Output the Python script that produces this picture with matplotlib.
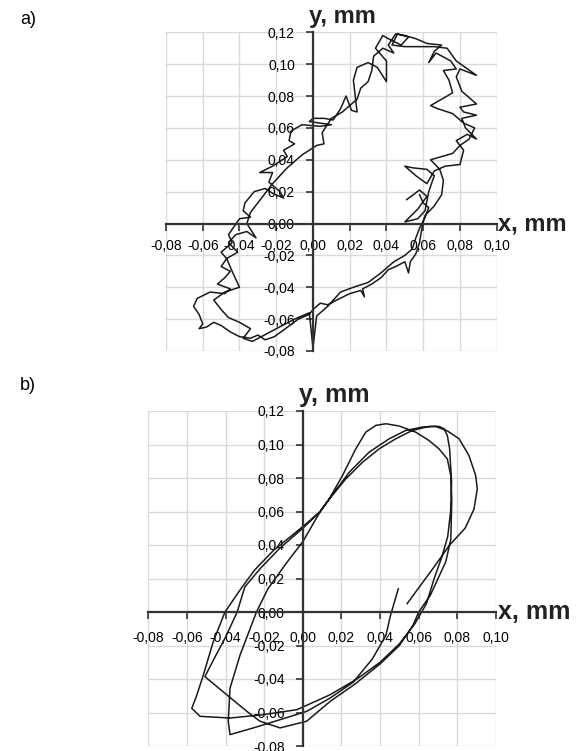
import matplotlib
matplotlib.use('Agg')
import matplotlib.pyplot as plt
import matplotlib.transforms as mtransforms

plt.rcParams['font.family'] = ['Liberation Sans', 'DejaVu Sans']

# axis ticks (shared by both panels)
xticks = [-0.08, -0.06, -0.04, -0.02, 0.00, 0.02, 0.04, 0.06, 0.08, 0.10]
yticks = [-0.08, -0.06, -0.04, -0.02, 0.00, 0.02, 0.04, 0.06, 0.08, 0.10, 0.12]
xlabels = ['-0,08', '-0,06', '-0,04', '-0,02', '0,00', '0,02', '0,04', '0,06', '0,08', '0,10']
ylabels = ['-0,08', '-0,06', '-0,04', '-0,02', '0,00', '0,02', '0,04', '0,06', '0,08', '0,10', '0,12']

# panel a) - noisy trajectory, x / y in mm
ax_x = [0.051, 0.058, 0.062, 0.057, 0.050, 0.057, 0.061, 0.063, 0.066, 0.062,
        0.054, 0.050, 0.056, 0.062, 0.066, 0.072, 0.080, 0.082, 0.078, 0.084,
        0.089, 0.083, 0.081, 0.089, 0.082, 0.080, 0.089, 0.081, 0.078, 0.080,
        0.089, 0.078, 0.073, 0.066, 0.058, 0.050, 0.043, 0.046, 0.052, 0.048,
        0.041, 0.038, 0.034, 0.040, 0.040, 0.035, 0.030, 0.024, 0.022, 0.023,
        0.024, 0.021, 0.018, 0.015, 0.011, 0.006, 0.000, -0.002, 0.004, 0.010,
        0.004, -0.006, -0.012, -0.013, -0.010, -0.016, -0.014, -0.022, -0.029, -0.022,
        -0.024, -0.018, -0.016, -0.022, -0.026, -0.032, -0.037, -0.038, -0.034, -0.040,
        -0.043, -0.046, -0.044, -0.050, -0.047, -0.050, -0.045, -0.048, -0.052, -0.045,
        -0.048, -0.056, -0.063, -0.065, -0.062, -0.060, -0.062, -0.058, -0.054, -0.050,
        -0.045, -0.040, -0.034, -0.030, -0.026, -0.021, -0.015, -0.008, -0.002, 0.000,
        0.004, 0.008, 0.013, 0.020, 0.026, 0.028, 0.027, 0.032, 0.037, 0.041,
        0.045, 0.050, 0.052, 0.053, 0.056, 0.058, 0.059, 0.060,
        0.061, 0.066, 0.070, 0.071, 0.069, 0.064, 0.070, 0.076, 0.080, 0.085,
        0.088, 0.082, 0.076, 0.068, 0.064, 0.070, 0.076, 0.074, 0.071, 0.078,
        0.075, 0.067, 0.063, 0.066, 0.070, 0.062, 0.056, 0.050, 0.045, 0.041,
        0.044, 0.038, 0.033, 0.032, 0.030, 0.026, 0.024, 0.020, 0.016, 0.010,
        0.005, 0.006, 0.002, -0.006, -0.014, -0.022, -0.028, -0.034, -0.036, -0.031,
        -0.036, -0.042, -0.046, -0.041, -0.047, -0.044, -0.040, -0.048, -0.054, -0.050,
        -0.046, -0.040, -0.034, -0.038, -0.033, -0.020, -0.010, -0.002, 0.000, 0.002,
        0.008, 0.015, 0.022, 0.030, 0.037, 0.044, 0.050, 0.054, 0.056, 0.058,
        0.061, 0.063, 0.060, 0.058]
ax_y = [0.015, 0.021, 0.017, 0.009, 0.001, 0.003, 0.008, 0.020, 0.030, 0.034,
        0.035, 0.036, 0.030, 0.025, 0.033, 0.036, 0.037, 0.046, 0.052, 0.056,
        0.053, 0.060, 0.066, 0.068, 0.070, 0.073, 0.075, 0.083, 0.092, 0.097,
        0.093, 0.102, 0.110, 0.111, 0.111, 0.111, 0.112, 0.119, 0.117, 0.112,
        0.116, 0.118, 0.110, 0.102, 0.089, 0.098, 0.101, 0.098, 0.090, 0.080,
        0.070, 0.071, 0.080, 0.072, 0.065, 0.066, 0.066, 0.064, 0.063, 0.062,
        0.061, 0.062, 0.058, 0.052, 0.050, 0.046, 0.042, 0.036, 0.032, 0.032,
        0.026, 0.020, 0.016, 0.019, 0.022, 0.020, 0.013, 0.008, 0.004, 0.003,
        -0.002, -0.007, -0.012, -0.018, -0.022, -0.027, -0.030, -0.034, -0.038, -0.041,
        -0.044, -0.043, -0.047, -0.052, -0.057, -0.063, -0.066, -0.065, -0.062, -0.064,
        -0.068, -0.071, -0.072, -0.070, -0.073, -0.071, -0.066, -0.060, -0.057, -0.054,
        -0.050, -0.051, -0.048, -0.044, -0.042, -0.046, -0.041, -0.038, -0.034, -0.029,
        -0.027, -0.024, -0.031, -0.024, -0.019, -0.012, -0.005, 0.001,
        0.005, 0.011, 0.018, 0.027, 0.034, 0.040, 0.042, 0.044, 0.049, 0.053,
        0.060, 0.063, 0.069, 0.072, 0.074, 0.078, 0.082, 0.090, 0.096, 0.097,
        0.102, 0.107, 0.101, 0.108, 0.112, 0.113, 0.116, 0.118, 0.119, 0.112,
        0.107, 0.110, 0.105, 0.096, 0.089, 0.085, 0.078, 0.074, 0.070, 0.066,
        0.057, 0.050, 0.049, 0.043, 0.035, 0.025, 0.016, 0.007, 0.000, -0.009,
        -0.005, -0.007, -0.012, -0.018, -0.022, -0.030, -0.040, -0.043, -0.048, -0.054,
        -0.059, -0.062, -0.066, -0.072, -0.074, -0.066, -0.060, -0.056, -0.078, -0.058,
        -0.052, -0.043, -0.040, -0.037, -0.031, -0.024, -0.020, -0.016, -0.009, -0.003,
        0.004, 0.010, 0.013, 0.018]

# panel b) - smooth trajectory, x / y in mm
bx = [0.054, 0.061, 0.068, 0.076, 0.084, 0.0886, 0.0903, 0.0895, 0.086, 0.0809,
      0.075, 0.0688, 0.0619, 0.0533, 0.0447, 0.0343, 0.024, 0.016, 0.009, 0.000,
      -0.015, -0.025, -0.032, -0.0403, -0.0464, -0.0515, -0.055, -0.0575, -0.0532, -0.0377,
      -0.0205, -0.003, 0.0141, 0.028, 0.040, 0.050, 0.058, 0.064, 0.068, 0.072,
      0.075, 0.0765, 0.077, 0.076, 0.0748, 0.0731, 0.0705, 0.0653, 0.0567, 0.0481,
      0.0395, 0.0309, 0.0222, 0.0136, 0.009, 0.000, -0.012, -0.022, -0.030, -0.034,
      -0.040, -0.046, -0.0507, -0.0394, -0.029, -0.0222, -0.0118, 0.002, 0.0141, 0.027,
      0.040, 0.050, 0.057, 0.060, 0.066, 0.070, 0.074, 0.0766, 0.0771, 0.0766,
      0.0748, 0.0705, 0.0653, 0.0584, 0.050, 0.043, 0.0378, 0.0326, 0.0274, 0.0205,
      0.0136, 0.009, 0.005, 0.000, -0.008, -0.018, -0.024, -0.0325, -0.0377, -0.0386,
      -0.0377, -0.0256, -0.0118, 0.002, 0.0141, 0.026, 0.036, 0.043, 0.0454, 0.0494]
by = [0.005, 0.016, 0.027, 0.040, 0.050, 0.0614, 0.0734, 0.0814, 0.0934, 0.1034,
      0.108, 0.1108, 0.1104, 0.1084, 0.1034, 0.0954, 0.0834, 0.071, 0.060, 0.051,
      0.037, 0.025, 0.014, 0.000, -0.0178, -0.0376, -0.050, -0.0575, -0.0623, -0.0633,
      -0.0613, -0.0583, -0.0494, -0.040, -0.030, -0.019, -0.007, 0.005, 0.020, 0.033,
      0.045, 0.060, 0.0774, 0.0974, 0.1054, 0.1094, 0.1108, 0.1108, 0.1084, 0.1034,
      0.0974, 0.0894, 0.0794, 0.0674, 0.060, 0.050, 0.038, 0.026, 0.015, 0.000,
      -0.015, -0.028, -0.0386, -0.0494, -0.0593, -0.0652, -0.0692, -0.0652, -0.0534, -0.043,
      -0.031, -0.020, -0.008, 0.000, 0.010, 0.020, 0.030, 0.0434, 0.0674, 0.0814,
      0.0914, 0.0974, 0.1024, 0.1074, 0.111, 0.1124, 0.1114, 0.1074, 0.0974, 0.0814,
      0.0674, 0.060, 0.052, 0.042, 0.030, 0.014, 0.000, -0.0257, -0.0455, -0.0652,
      -0.0732, -0.0692, -0.0643, -0.0593, -0.0514, -0.042, -0.028, -0.014, -0.002, 0.0138]

fig = plt.figure(figsize=(5.78, 7.51), dpi=100)


def setup(ax, size, lab_size, xpad):
    ax.set_xlim(-0.08, 0.10)
    ax.set_ylim(-0.08, 0.12)
    ax.set_xticks(xticks)
    ax.set_yticks(yticks)
    ax.set_xticklabels(xlabels, fontsize=size, color='#333333')
    ax.set_yticklabels(ylabels, fontsize=size, color='#333333')
    ax.grid(True, color='#d9d9d9', linewidth=1.0)
    ax.set_axisbelow(True)
    for s in ['left', 'bottom']:
        ax.spines[s].set_position('zero')
        ax.spines[s].set_linewidth(1.6)
        ax.spines[s].set_color('#333333')
    ax.spines['top'].set_visible(False)
    ax.spines['right'].set_visible(False)
    ax.tick_params(direction='out', length=5, width=1.2, color='#333333')
    ax.tick_params(axis='y', pad=8)
    ax.tick_params(axis='x', pad=xpad)
    ax.patch.set_alpha(0)
    trans = mtransforms.blended_transform_factory(ax.transAxes, ax.transData)
    ax.text(1.005, 0.0, 'x, mm', transform=trans, ha='left', va='center',
            fontsize=lab_size, fontweight='bold', color='#222222', clip_on=False)
    trans2 = mtransforms.blended_transform_factory(ax.transData, ax.transAxes)
    ax.text(-0.002, 1.012, 'y, mm', transform=trans2, ha='left', va='bottom',
            fontsize=lab_size, fontweight='bold', color='#222222', clip_on=False)


# panel a
ax1 = fig.add_axes([166 / 578, 1 - 351 / 751, 330.7 / 578, 318.7 / 751])
setup(ax1, 10.5, 17, 6)
ax1.plot(ax_x, ax_y, color='#1a1a1a', linewidth=1.1, clip_on=False)

# panel b
ax2 = fig.add_axes([148.3 / 578, 1 - 746 / 751, 347.7 / 578, 335 / 751])
setup(ax2, 12, 18, 9)
ax2.plot(bx, by, color='#1a1a1a', linewidth=1.1, clip_on=False)

fig.text(20 / 578, 1 - 20 / 751, 'a)', fontsize=13, va='center', ha='left')
fig.text(20 / 578, 1 - 385 / 751, 'b)', fontsize=13, va='center', ha='left')

plt.savefig('out.png', dpi=100)
